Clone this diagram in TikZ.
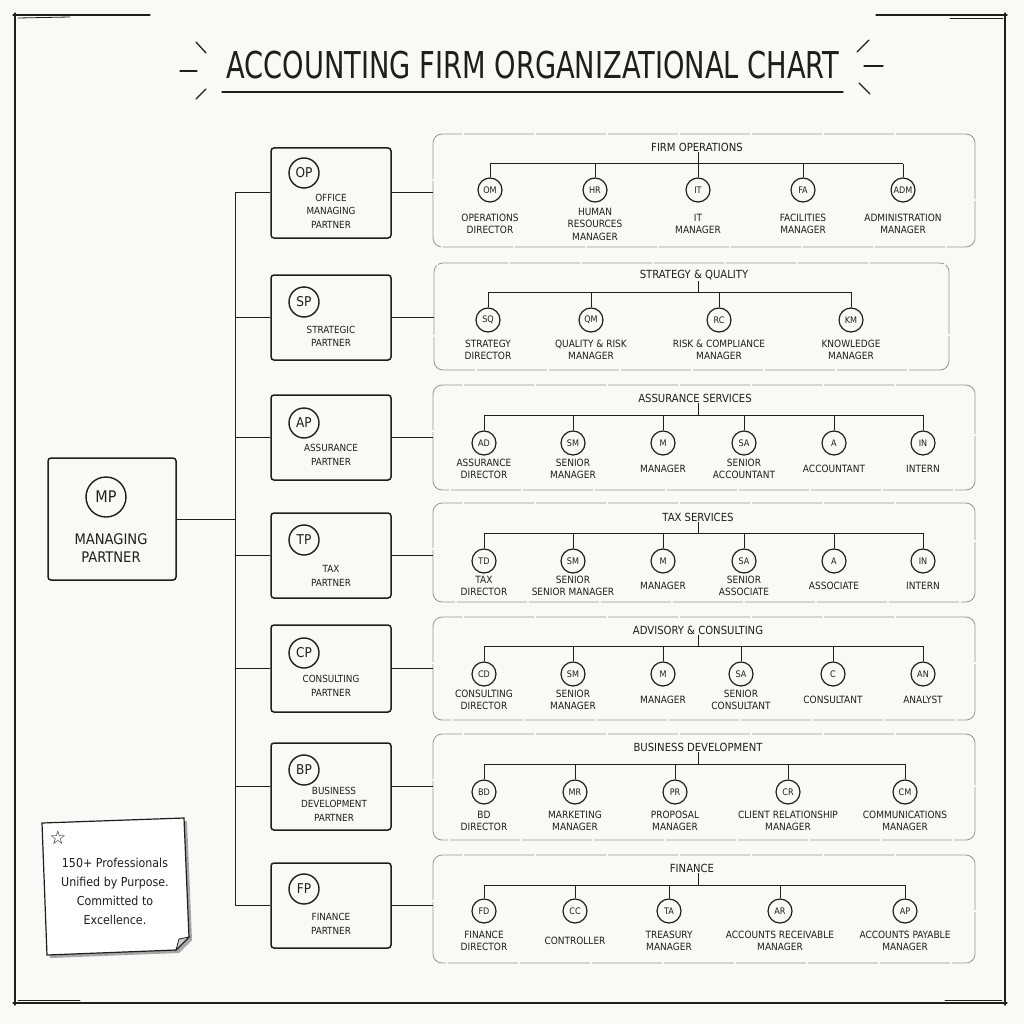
\documentclass[tikz,border=0pt]{standalone}
\usepackage{fontspec}
\setmainfont{DejaVu Sans Condensed}
\newfontfamily\symfont{DejaVu Sans}
\usetikzlibrary{calc}
\definecolor{bg}{RGB}{249,249,248}
\definecolor{ink}{RGB}{30,30,30}
\definecolor{panelc}{RGB}{150,150,150}
\newcommand{\kidnode}[6]{\node[kid] (#1) at (#2,#3) {#4}; \node[lbl] (#1l) at (#2,#5) {#6};}
\begin{document}
\begin{tikzpicture}[x=1pt,y=-1pt,
  pbox/.style={draw=ink, line width=1.5pt, rounded corners=3pt, minimum width=120pt, inner sep=0pt},
  pcirc/.style={circle, draw=ink, line width=1.4pt, minimum size=30pt, inner sep=0pt, text=ink, font=\fontsize{13.5}{13.5}\selectfont},
  ptext/.style={align=center, font=\fontsize{9.8}{13.5}\selectfont, text=ink},
  panel/.style={draw=panelc, line width=0.8pt, rounded corners=9pt, dash pattern=on 70pt off 2pt, inner sep=0pt},
  ptitle/.style={font=\fontsize{11.2}{11.2}\selectfont, text=ink, inner sep=1pt},
  kid/.style={circle, draw=ink, line width=1.2pt, minimum size=24pt, inner sep=0pt, text=ink, font=\fontsize{9}{9}\selectfont},
  lbl/.style={align=center, font=\fontsize{10}{12.5}\selectfont, text=ink},
  conn/.style={draw=ink, line width=1pt},
  frame/.style={draw=ink, line width=1.3pt, line cap=round},
]
\useasboundingbox (0,0) rectangle (1024,1024);
\fill[bg] (0,0) rectangle (1024,1024);

% frame
\draw[frame] (15,13) -- (15,1005);
\draw[frame] (13,15) -- (150,15);
\draw[frame, line width=0.8pt] (18,18) -- (70,17);
\draw[frame] (876,15) -- (1007,15);
\draw[frame, line width=0.8pt] (950,18) -- (1003,18);
\draw[frame] (1005,13) -- (1005,1005);
\draw[frame] (13,1003) -- (1007,1003);
\draw[frame, line width=0.8pt] (18,1000) -- (80,1000);
\draw[frame, line width=0.8pt] (945,1000) -- (1002,1000);

% title
\node[font=\fontsize{37}{40}\selectfont, text=ink] (title) at (533,65) {\scalebox{0.82}[1]{ACCOUNTING FIRM ORGANIZATIONAL CHART}};
\draw[frame] (222,92) -- (843,92);
\draw[frame] (196,42) -- (206,53);
\draw[frame] (180,71) -- (197,71);
\draw[frame] (196,99) -- (206,89);
\draw[frame] (869,40) -- (857,52);
\draw[frame] (864,66) -- (883,66);
\draw[frame] (859,83) -- (870,94);

% managing partner
\node[pbox, minimum width=128pt, minimum height=122pt] (mp) at (112,519) {};
\node[pcirc, minimum size=40pt, font=\fontsize{16}{16}\selectfont] (mpc) at (106,497) {MP};
\node[ptext, font=\fontsize{14.6}{18.5}\selectfont] (mpt) at (111,548) {MANAGING\\PARTNER};

% partner boxes
\node[pbox, minimum height=90pt] (op) at (331,193) {};
\node[pcirc] (opc) at (304,173) {OP};
\node[ptext] (opt) at (331,211) {OFFICE\\MANAGING\\PARTNER};

\node[pbox, minimum height=85pt] (sp) at (331,317.5) {};
\node[pcirc] (spc) at (304,302) {SP};
\node[ptext] (spt) at (331,336.5) {STRATEGIC\\PARTNER};

\node[pbox, minimum height=85pt] (ap) at (331,437.5) {};
\node[pcirc] (apc) at (304,423) {AP};
\node[ptext] (apt) at (331,455) {ASSURANCE\\PARTNER};

\node[pbox, minimum height=85pt] (tp) at (331,555.5) {};
\node[pcirc] (tpc) at (304,540) {TP};
\node[ptext] (tpt) at (331,576) {TAX\\PARTNER};

\node[pbox, minimum height=87pt] (cp) at (331,668.5) {};
\node[pcirc] (cpc) at (304,653) {CP};
\node[ptext] (cpt) at (331,686) {CONSULTING\\PARTNER};

\node[pbox, minimum height=87pt] (bp) at (331,786.5) {};
\node[pcirc] (bpc) at (304,770) {BP};
\node[ptext] (bpt) at (334,804) {BUSINESS\\DEVELOPMENT\\PARTNER};

\node[pbox, minimum height=85pt] (fp) at (331,905.5) {};
\node[pcirc] (fpc) at (304,889) {FP};
\node[ptext] (fpt) at (331,924) {FINANCE\\PARTNER};

% trunk
\coordinate (trunk) at (235,0);
\draw[conn] (mp.east) -- (mp.east -| trunk);
\draw[conn] (op.west -| trunk) -- (fp.west -| trunk);
\foreach \p in {op,sp,ap,tp,cp,bp,fp} \draw[conn] (\p.west -| trunk) -- (\p.west);

% panels
\node[panel, minimum width=542pt, minimum height=113pt] (oppanel) at (704,190.5) {};
\node[panel, minimum width=515pt, minimum height=107pt] (sppanel) at (691.5,316.5) {};
\node[panel, minimum width=542pt, minimum height=105pt] (appanel) at (704,437.5) {};
\node[panel, minimum width=542pt, minimum height=99pt] (tppanel) at (704,552.5) {};
\node[panel, minimum width=542pt, minimum height=103pt] (cppanel) at (704,668.5) {};
\node[panel, minimum width=542pt, minimum height=106pt] (bppanel) at (704,787) {};
\node[panel, minimum width=542pt, minimum height=108pt] (fppanel) at (704,909) {};
\foreach \p in {op,sp,ap,tp,cp,bp,fp} \draw[conn] (\p.east) -- (\p.east -| \p panel.west);

% Firm operations
\node[ptitle] (opti) at (697,147) {FIRM OPERATIONS};
\coordinate (opbus) at (698,164);
\draw[conn] (opbus |- opti.south) -- (opbus);
\kidnode{om}{490}{190}{OM}{224}{OPERATIONS\\DIRECTOR}
\kidnode{hr}{595}{190}{HR}{224}{HUMAN\\RESOURCES\\MANAGER}
\kidnode{it}{698}{190}{IT}{224}{IT\\MANAGER}
\kidnode{fa}{803}{190}{FA}{224}{FACILITIES\\MANAGER}
\kidnode{adm}{903}{190}{ADM}{224}{ADMINISTRATION\\MANAGER}
\draw[conn] (om |- opbus) -- (adm |- opbus);
\foreach \k in {om,hr,it,fa,adm} \draw[conn] (\k.north) -- (\k |- opbus);

% Strategy & quality
\node[ptitle] (spti) at (694,275) {STRATEGY \& QUALITY};
\coordinate (spbus) at (698,292);
\draw[conn] (spbus |- spti.south) -- (spbus);
\kidnode{sq}{488}{320}{SQ}{350}{STRATEGY\\DIRECTOR}
\kidnode{qm}{591}{320}{QM}{350}{QUALITY \& RISK\\MANAGER}
\kidnode{rc}{719}{320}{RC}{350}{RISK \& COMPLIANCE\\MANAGER}
\kidnode{km}{851}{320}{KM}{350}{KNOWLEDGE\\MANAGER}
\draw[conn] (sq |- spbus) -- (km |- spbus);
\foreach \k in {sq,qm,rc,km} \draw[conn] (\k.north) -- (\k |- spbus);

% Assurance
\node[ptitle] (apti) at (695,398) {ASSURANCE SERVICES};
\coordinate (apbus) at (698,415);
\draw[conn] (apbus |- apti.south) -- (apbus);
\kidnode{ad}{484}{443}{AD}{469}{ASSURANCE\\DIRECTOR}
\kidnode{asm}{573}{443}{SM}{469}{SENIOR\\MANAGER}
\kidnode{am}{663}{443}{M}{469}{MANAGER}
\kidnode{asa}{744}{443}{SA}{469}{SENIOR\\ACCOUNTANT}
\kidnode{aa}{834}{443}{A}{469}{ACCOUNTANT}
\kidnode{ain}{923}{443}{IN}{469}{INTERN}
\draw[conn] (ad |- apbus) -- (ain |- apbus);
\foreach \k in {ad,asm,am,asa,aa,ain} \draw[conn] (\k.north) -- (\k |- apbus);

% Tax
\node[ptitle] (tpti) at (698,517) {TAX SERVICES};
\coordinate (tpbus) at (698,533);
\draw[conn] (tpbus |- tpti.south) -- (tpbus);
\kidnode{td}{484}{561}{TD}{586}{TAX\\DIRECTOR}
\kidnode{tsm}{573}{561}{SM}{586}{SENIOR\\SENIOR MANAGER}
\kidnode{tm}{663}{561}{M}{586}{MANAGER}
\kidnode{tsa}{744}{561}{SA}{586}{SENIOR\\ASSOCIATE}
\kidnode{ta}{834}{561}{A}{586}{ASSOCIATE}
\kidnode{tin}{923}{561}{IN}{586}{INTERN}
\draw[conn] (td |- tpbus) -- (tin |- tpbus);
\foreach \k in {td,tsm,tm,tsa,ta,tin} \draw[conn] (\k.north) -- (\k |- tpbus);

% Advisory
\node[ptitle] (cpti) at (698,630) {ADVISORY \& CONSULTING};
\coordinate (cpbus) at (698,646);
\draw[conn] (cpbus |- cpti.south) -- (cpbus);
\kidnode{cd}{484}{674}{CD}{700}{CONSULTING\\DIRECTOR}
\kidnode{csm}{573}{674}{SM}{700}{SENIOR\\MANAGER}
\kidnode{cm}{663}{674}{M}{700}{MANAGER}
\kidnode{csa}{741}{674}{SA}{700}{SENIOR\\CONSULTANT}
\kidnode{cc}{833}{674}{C}{700}{CONSULTANT}
\kidnode{can}{923}{674}{AN}{700}{ANALYST}
\draw[conn] (cd |- cpbus) -- (can |- cpbus);
\foreach \k in {cd,csm,cm,csa,cc,can} \draw[conn] (\k.north) -- (\k |- cpbus);

% Business development
\node[ptitle] (bpti) at (698,747) {BUSINESS DEVELOPMENT};
\coordinate (bpbus) at (698,764);
\draw[conn] (bpbus |- bpti.south) -- (bpbus);
\kidnode{bd}{484}{792}{BD}{821}{BD\\DIRECTOR}
\kidnode{bmr}{575}{792}{MR}{821}{MARKETING\\MANAGER}
\kidnode{bpr}{675}{792}{PR}{821}{PROPOSAL\\MANAGER}
\kidnode{bcr}{788}{792}{CR}{821}{CLIENT RELATIONSHIP\\MANAGER}
\kidnode{bcm}{905}{792}{CM}{821}{COMMUNICATIONS\\MANAGER}
\draw[conn] (bd |- bpbus) -- (bcm |- bpbus);
\foreach \k in {bd,bmr,bpr,bcr,bcm} \draw[conn] (\k.north) -- (\k |- bpbus);

% Finance
\node[ptitle] (fpti) at (692,868) {FINANCE};
\coordinate (fpbus) at (698,885);
\draw[conn] (fpbus |- fpti.south) -- (fpbus);
\kidnode{fd}{484}{911}{FD}{941}{FINANCE\\DIRECTOR}
\kidnode{fcc}{575}{911}{CC}{941}{CONTROLLER}
\kidnode{fta}{669}{911}{TA}{941}{TREASURY\\MANAGER}
\kidnode{far}{780}{911}{AR}{941}{ACCOUNTS RECEIVABLE\\MANAGER}
\kidnode{fap}{905}{911}{AP}{941}{ACCOUNTS PAYABLE\\MANAGER}
\draw[conn] (fd |- fpbus) -- (fap |- fpbus);
\foreach \k in {fd,fcc,fta,far,fap} \draw[conn] (\k.north) -- (\k |- fpbus);

% note
\fill[black!35] (45,826) -- (187,821) -- (192,940) -- (179,953) -- (50,958) -- cycle;
\fill[white, draw=ink, line width=1.2pt] (42,823) -- (184,818) -- (189,937) -- (176,950) -- (47,955) -- cycle;
\fill[black!20, draw=ink, line width=0.8pt] (189,937) -- (179,939) -- (176,950) -- cycle;
\node[text=ink, font=\symfont\fontsize{19}{19}\selectfont] (star) at (58,838) {☆};
\node[align=center, text=ink, font=\fontsize{12.3}{19}\selectfont] (notet) at (115,891) {150+ Professionals\\Unified by Purpose.\\Committed to\\Excellence.};
\end{tikzpicture}
\end{document}
